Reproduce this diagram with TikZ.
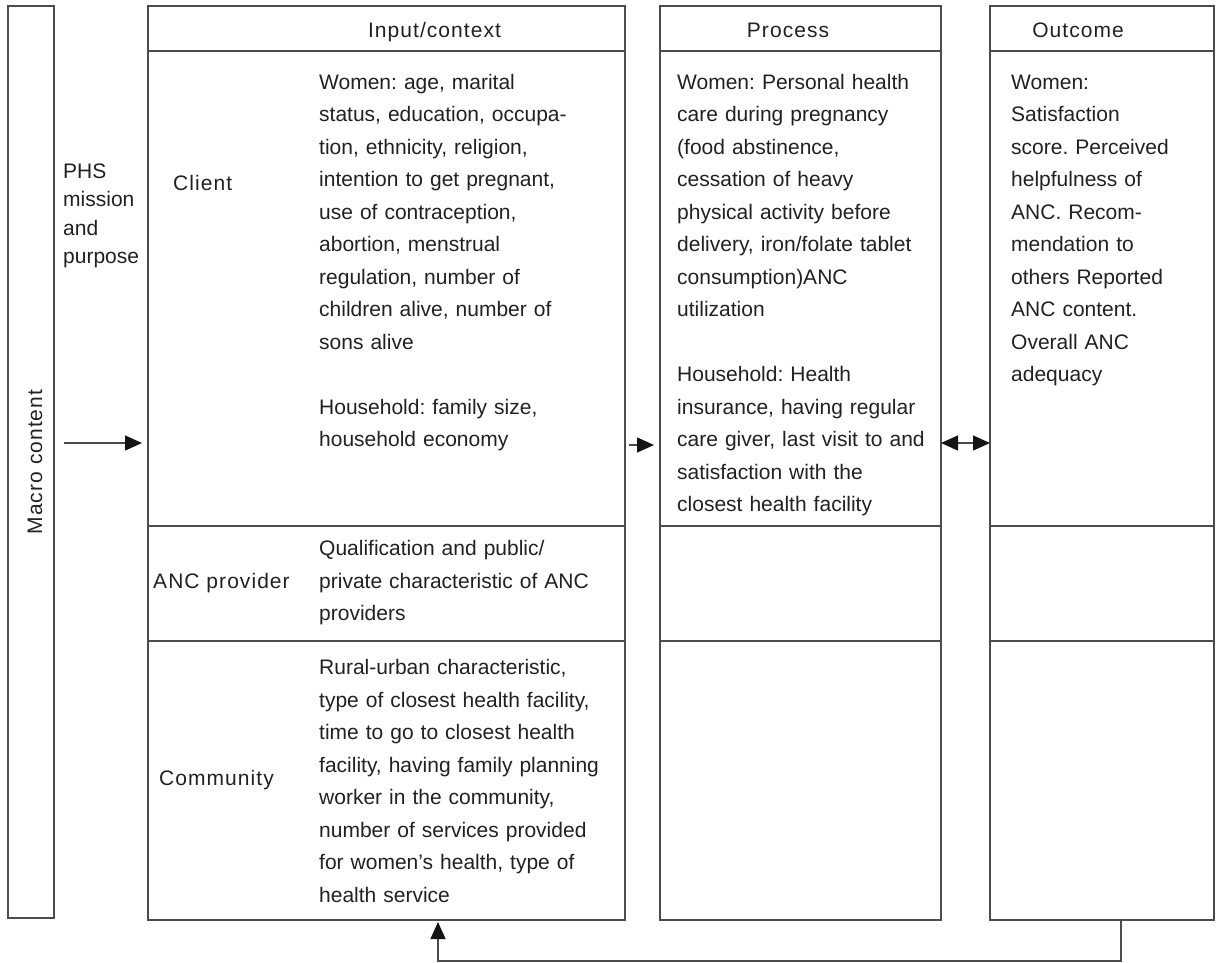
\documentclass[tikz,border=0pt]{standalone}
\usepackage{fontspec}
\setmainfont{Liberation Sans}
\newfontfamily\labfont[LetterSpace=5]{Liberation Sans}
\usetikzlibrary{arrows.meta,calc}
\definecolor{linec}{gray}{0.30}
\definecolor{textc}{gray}{0.13}
\definecolor{tipc}{gray}{0.08}
\frenchspacing
\begin{document}
\begin{tikzpicture}[x=1bp,y=-1bp,
  box/.style={draw=linec, line width=1.4bp, inner sep=0pt, outer sep=0pt, anchor=north west},
  sep/.style={draw=linec, line width=1.4bp},
  body/.style={anchor=base west, inner sep=0pt, text width=320bp, align=left,
    font=\frenchspacing\fontsize{21bp}{32.5bp}\selectfont, text=textc},
  phsstyle/.style={anchor=base west, inner sep=0pt, text width=90bp, align=left,
    font=\fontsize{21bp}{28.5bp}\selectfont, text=textc},
  lab/.style={inner sep=0pt, font=\labfont\fontsize{21bp}{28bp}\selectfont, text=textc},
  arr/.style={draw=linec, line width=1.4bp, -{Triangle[length=17bp,width=15bp,color=tipc]}},
  darr/.style={draw=linec, line width=1.4bp, {Triangle[length=17bp,width=15bp,color=tipc]}-{Triangle[length=17bp,width=15bp,color=tipc]}},
]
\useasboundingbox (0,0) rectangle (1219,963);

% boxes
\node[box, minimum width=46bp, minimum height=912bp] (macro) at (8,6) {};
\node[box, minimum width=477bp, minimum height=914bp] (input) at (148,6) {};
\node[box, minimum width=281bp, minimum height=914bp] (process) at (660,6) {};
\node[box, minimum width=224bp, minimum height=914bp] (outcome) at (990,6) {};

% horizontal separators
\coordinate (h0) at (0,51);
\coordinate (r1) at (0,526);
\coordinate (r2) at (0,641);
\foreach \b in {input,process,outcome}{
  \foreach \c in {h0,r1,r2}{
    \draw[sep] (\b.west |- \c) -- (\b.east |- \c);
  }
}

% headers
\node[lab, anchor=base] (hin) at (434.5,37) {Input/context};
\node[lab, anchor=base] (hpr) at (788,37) {Process};
\node[lab, anchor=base] (hout) at (1078,37) {Outcome};

% macro / PHS
\node[lab, anchor=base, rotate=90] (macrotxt) at (42,462) {Macro content};
\node[phsstyle] (phs) at (63,178) {PHS\\mission\\and\\purpose};

% row labels
\node[lab, anchor=base west] (client) at (173,190) {Client};
\node[lab, anchor=base west] (anc) at (153,588) {ANC provider};
\node[lab, anchor=base west] (comm) at (159,785) {Community};

% input texts
\node[body] (clienttxt) at (319,89) {Women: age, marital\\status, education, occupa-\\tion, ethnicity, religion,\\intention to get pregnant,\\use of contraception,\\abortion, menstrual\\regulation, number of\\children alive, number of\\sons alive};
\node[body] (hhtxt) at (319,414) {Household: family size,\\household economy};
\node[body] (anctxt) at (319,555.5) {Qualification and public/\\private characteristic of ANC\\providers};
\node[body] (commtxt) at (319,674.5) {Rural-urban characteristic,\\type of closest health facility,\\time to go to closest health\\facility, having family planning\\worker in the community,\\number of services provided\\for women’s health, type of\\health service};

% process texts
\node[body] (proctxt) at (677,89) {Women: Personal health\\care during pregnancy\\(food abstinence,\\cessation of heavy\\physical activity before\\delivery, iron/folate tablet\\consumption)ANC\\utilization};
\node[body] (prochh) at (677,381.5) {Household: Health\\insurance, having regular\\care giver, last visit to and\\satisfaction with the\\closest health facility};

% outcome text
\node[body] (outtxt) at (1011,89) {Women:\\Satisfaction\\score. Perceived\\helpfulness of\\ANC. Recom-\\mendation to\\others Reported\\ANC content.\\Overall ANC\\adequacy};

% connectors
\coordinate (ya) at (0,443);
\coordinate (yb) at (0,445);
\draw[arr] ($(macro.east |- ya)+(10,0)$) -- ($(input.west |- ya)+(-6,0)$);
\draw[arr] ($(input.east |- yb)+(4,0)$) -- ($(process.west |- yb)+(-6,0)$);
\draw[darr] (process.east |- ya) -- (outcome.west |- ya);
\draw[arr] ($(outcome.south west)+(131,0)$) -- ++(0,41) -| ($(input.south west)+(290,2)$);
\end{tikzpicture}
\end{document}
